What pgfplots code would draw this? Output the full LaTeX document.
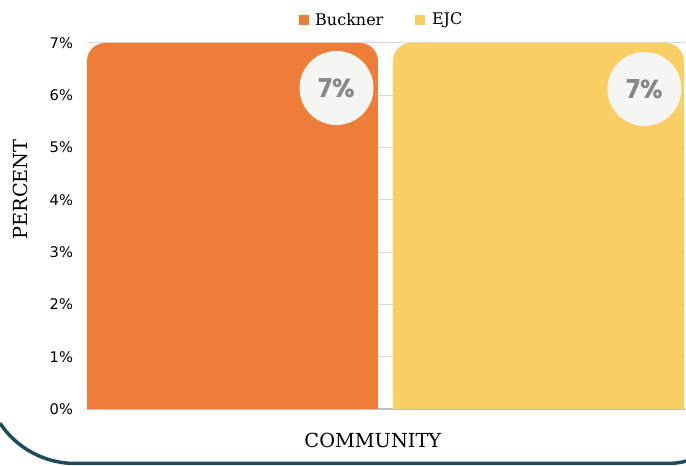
\documentclass[border=0pt]{standalone}
\usepackage{pgfplots}
\pgfplotsset{compat=1.18}
\usepackage{fontspec}
\setmainfont{DejaVu Serif}
\newfontfamily\ticksfont{DejaVu Sans}
\newfontfamily\labfont{Poppins}
\definecolor{cOrange}{HTML}{ED7D39}
\definecolor{cYellow}{HTML}{F9CF63}
\definecolor{cGrid}{HTML}{D9D9D9}
\definecolor{cAxis}{HTML}{BFBFBF}
\definecolor{cCircle}{HTML}{F5F5F1}
\definecolor{cLab}{HTML}{888888}
\definecolor{cBorder}{HTML}{1E4A5C}
\begin{document}
\begin{tikzpicture}
\useasboundingbox (0pt,0pt) rectangle (514.5pt,349.5pt);
% card border (decoration)
\draw[cBorder, line width=2.6pt] (56.25pt,69.4pt) ++(213.6:67.5pt) arc (213.6:270:67.5pt) -- (501pt,1.9pt) arc (270:285:52.5pt);
\begin{axis}[
  at={(65.25pt,42.75pt)}, anchor=south west, scale only axis,
  width=448.5pt, height=274.5pt,
  xmin=-0.4755, xmax=1.479, ymin=0, ymax=7,
  ybar, bar width=0.951, bar shift=0pt,
  axis line style={draw=none},
  ymajorgrids, grid style={cGrid, line width=0.75pt},
  extra y ticks={0}, extra y tick labels={}, extra y tick style={grid style={cAxis, line width=0.9pt}},
  major tick length=0pt,
  xtick=\empty,
  ytick={0,1,2,3,4,5,6,7},
  yticklabel={\pgfmathprintnumber{\tick}\%},
  /pgf/number format/assume math mode=true,
  yticklabel style={font=\ticksfont\fontsize{11}{13}\selectfont, xshift=-7pt},
  ylabel={PERCENT}, xlabel={COMMUNITY},
  label style={font=\fontsize{14.5}{16}\selectfont},
  ylabel style={at={(axis description cs:-0.112,0.60)}, anchor=center},
  xlabel style={at={(axis description cs:0.478,-0.085)}, anchor=center},
  legend style={at={(axis description cs:0.493,1)}, anchor=center, yshift=17.25pt,
    draw=none, fill=none, font=\fontsize{12}{14}\selectfont,
    /tikz/every even column/.append style={column sep=22pt}},
  legend columns=2,
  legend image code/.code={\fill[#1, sharp corners] (0pt,-3.75pt) rectangle (7.5pt,3.75pt); \path (0pt,0pt) -- (10.5pt,0pt);},
  clip=false,
]
\addplot[fill=cOrange, draw=none, rounded corners=13.5pt,
  nodes near coords={\pgfmathprintnumber{\pgfplotspointmeta}\%},
  every node near coord/.style={circle, fill=cCircle, minimum size=55.5pt, inner sep=0pt,
    font=\labfont\bfseries\fontsize{19.5}{20}\selectfont, text=cLab, anchor=center,
    xshift=78pt, yshift=-33.75pt}]
  coordinates {(0,7)};
\addlegendentry{Buckner}
\addplot[fill=cOrange, draw=none, forget plot] coordinates {(0,1)};
\addplot[fill=cYellow, draw=none, rounded corners=13.5pt,
  nodes near coords={\pgfmathprintnumber{\pgfplotspointmeta}\%},
  every node near coord/.style={circle, fill=cCircle, minimum size=55.5pt, inner sep=0pt,
    font=\labfont\bfseries\fontsize{19.5}{20}\selectfont, text=cLab, anchor=center,
    xshift=79.5pt, yshift=-34.5pt}]
  coordinates {(1,7)};
\addlegendentry{EJC}
\addplot[fill=cYellow, draw=none, forget plot] coordinates {(1,1)};
\end{axis}
\end{tikzpicture}
\end{document}
